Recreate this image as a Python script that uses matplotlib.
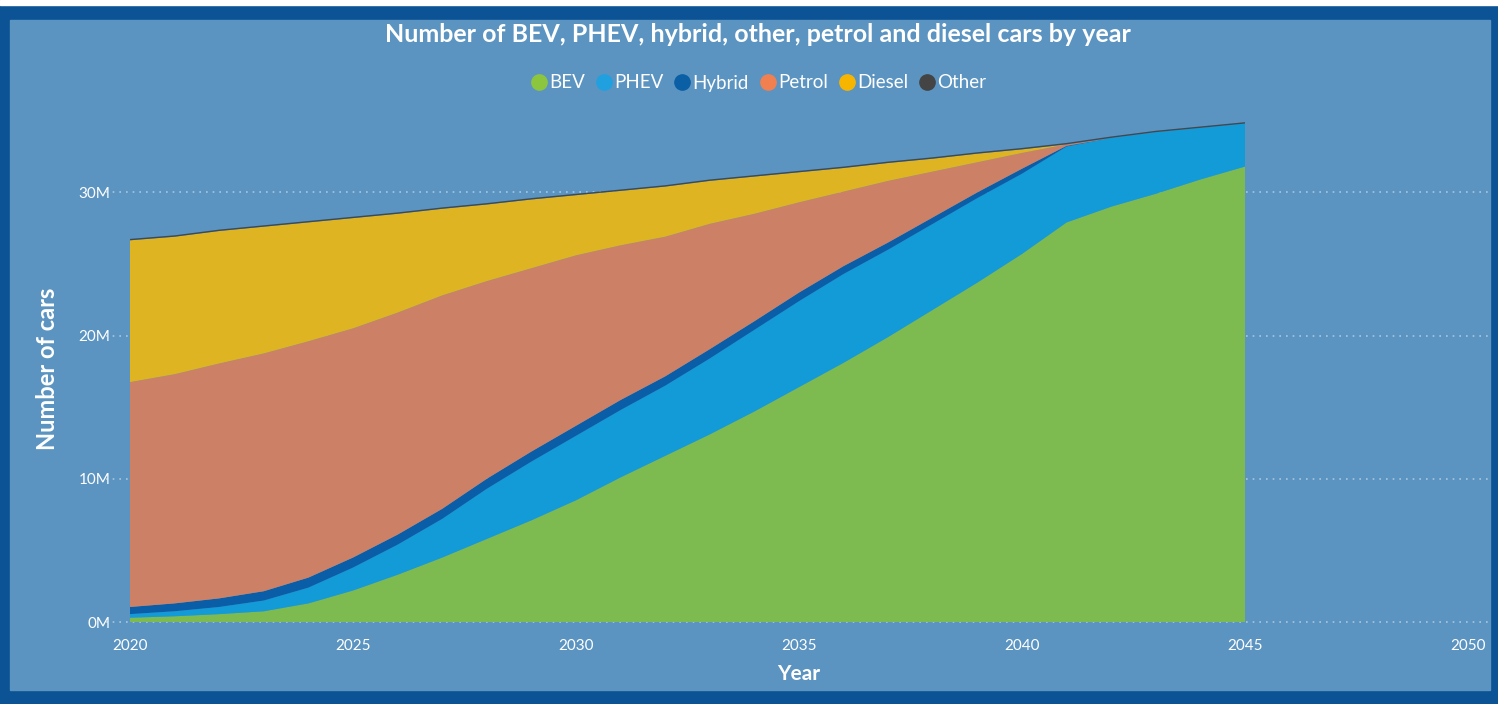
import matplotlib.pyplot as plt
from matplotlib.lines import Line2D
from matplotlib.patches import Rectangle

# number of cars per fuel type, in millions
years = list(range(2020, 2046))
bev = [0.3, 0.4, 0.55, 0.75, 1.3, 2.2, 3.3, 4.5, 5.8, 7.1, 8.5, 10.1, 11.6,
       13.1, 14.7, 16.4, 18.1, 19.9, 21.8, 23.7, 25.7, 27.9, 29.0, 29.9, 30.9, 31.8]
phev = [0.25, 0.35, 0.5, 0.75, 1.1, 1.6, 2.1, 2.7, 3.5, 4.1, 4.5, 4.7, 4.9,
        5.3, 5.7, 6.0, 6.2, 6.1, 6.0, 5.9, 5.6, 5.3, 4.8, 4.3, 3.6, 3.0]
hybrid = [0.5, 0.55, 0.6, 0.65, 0.7, 0.7, 0.7, 0.7, 0.7, 0.7, 0.7, 0.7, 0.65,
          0.65, 0.6, 0.6, 0.55, 0.5, 0.45, 0.4, 0.35, 0.05, 0, 0, 0, 0]
petrol = [15.7, 16.0, 16.4, 16.6, 16.5, 16.0, 15.5, 14.9, 13.8, 12.8, 11.9, 10.8, 9.75,
          8.75, 7.5, 6.3, 5.2, 4.3, 3.2, 2.1, 1.1, 0.1, 0, 0, 0, 0]
diesel = [9.9, 9.6, 9.25, 8.85, 8.3, 7.7, 6.9, 6.05, 5.35, 4.8, 4.2, 3.8, 3.5,
          3.0, 2.6, 2.1, 1.65, 1.25, 0.9, 0.6, 0.25, 0, 0, 0, 0, 0]
other = [0.1] * 26

labels = ["BEV", "PHEV", "Hybrid", "Petrol", "Diesel", "Other"]
area_colors = ["#7dba50", "#139bd8", "#0a5ea8", "#cc8065", "#dfb423", "#3d4a55"]
legend_colors = ["#8cc63f", "#21a0e0", "#0b5fa5", "#f08050", "#f7b500", "#444444"]

bg = "#5b94c1"
frame = "#0b5394"
plt.rcParams["font.family"] = ["Lato", "DejaVu Sans"]

fig = plt.figure(figsize=(14.98, 7.04), dpi=100)
fig.patch.set_facecolor(frame)
# inner panel and thin white strip on top
fig.patches.append(Rectangle((10 / 1498, 14 / 704), 1480 / 1498, 670 / 704,
                             transform=fig.transFigure, color=bg, zorder=-2))
fig.patches.append(Rectangle((0, 1 - 5 / 704), 1, 5 / 704,
                             transform=fig.transFigure, color="white", zorder=-2))

ax = fig.add_axes([130 / 1498, 1 - 622 / 704, 1338 / 1498, 507 / 704])
ax.set_zorder(2)
ax.set_facecolor(bg)
ax.stackplot(years, bev, phev, hybrid, petrol, diesel, other,
             colors=area_colors, linewidth=0, zorder=2)

ax.set_xlim(2020, 2050)
ax.set_ylim(0, 35.4)
yt = [0, 10, 20, 30]
ax.set_xticks(range(2020, 2051, 5))
ax.set_yticks(yt)
ax.set_yticklabels(["0M", "10M", "20M", "30M"])
ax.tick_params(colors="white", labelsize=11, length=0, pad=12)
ax.tick_params(axis="y", pad=14)
# dotted gridlines running a little past the plot on both sides
for v in yt:
    ax.plot([-0.018, 1.016], [v, v], transform=ax.get_yaxis_transform(),
            color="#a9c7e0", linestyle=(0, (1, 3)), linewidth=1.2, zorder=1, clip_on=False)
for s in ax.spines.values():
    s.set_visible(False)

ax.set_xlabel("Year", color="white", fontsize=15, fontweight="bold", labelpad=8)
ax.set_ylabel("Number of cars", color="white", fontsize=17, fontweight="bold", labelpad=14)

fig.text(0.506, 1 - 35 / 704, "Number of BEV, PHEV, hybrid, other, petrol and diesel cars by year",
         color="white", fontsize=18, fontweight="bold", ha="center", va="center")

handles = [Line2D([], [], marker="o", linestyle="", markersize=11, color=c) for c in legend_colors]
leg = fig.legend(handles, labels, loc="center", bbox_to_anchor=(0.506, 1 - 83 / 704),
                 ncol=6, frameon=False, fontsize=13.5, handletextpad=0.05,
                 columnspacing=0.5, handlelength=1.0)
for t in leg.get_texts():
    t.set_color("white")

fig.savefig("out.png", dpi=100, facecolor=fig.get_facecolor())
